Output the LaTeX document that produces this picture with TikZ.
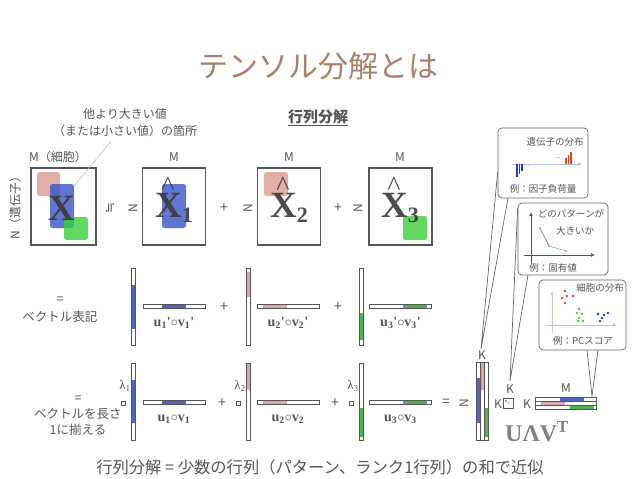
\documentclass[tikz,border=0pt]{standalone}
\usepackage{fontspec}
\setmainfont{Noto Sans CJK JP}
\newfontfamily\serifb{Liberation Serif}
\newfontfamily\symfont{DejaVu Sans}
\usetikzlibrary{arrows.meta,positioning}
\definecolor{TTitle}{HTML}{A8806E}
\definecolor{TInk}{HTML}{555555}
\definecolor{XInk}{HTML}{3A3A3A}
\definecolor{TBlue}{HTML}{3A52C8}
\definecolor{TRed}{HTML}{D99A94}
\definecolor{TGreen}{HTML}{3CCF3C}
\definecolor{TVBlue}{HTML}{5064C4}
\definecolor{TVRed}{HTML}{D9AAA8}
\definecolor{TVGreen}{HTML}{55B055}
\definecolor{CInk}{HTML}{666666}
\definecolor{AxBlue}{HTML}{B4C0EC}
\definecolor{AxPink}{HTML}{F2BDBD}
\definecolor{DBlue}{HTML}{1E3CC0}
\definecolor{DRed}{HTML}{E0461E}
\definecolor{DGreen}{HTML}{2ED82E}
\newcommand\fsz[1]{\fontsize{#1}{#1}\selectfont}
\newcommand\fszl[2]{\fontsize{#1}{#2}\selectfont}

\begin{document}
\begin{tikzpicture}[x=1pt,y=-1pt,
  lbl/.style={text=TInk,font=\fsz{12},inner sep=0pt,align=center},
  mat/.style={draw=TInk,line width=1.1pt,minimum width=63pt,minimum height=77pt,inner sep=0pt},
  bigx/.style={text=XInk,font=\serifb\bfseries\fsz{37},inner sep=0pt,opacity=.9},
  hatx/.style={text=XInk,font=\serifb\fsz{28},inner sep=0pt,opacity=.9},
  patch/.style={rounded corners=2.5pt,opacity=.8},
  vbar/.style={draw=TInk,line width=.8pt,minimum width=4pt,minimum height=77pt,inner sep=0pt},
  hbar/.style={draw=TInk,line width=.8pt,minimum width=62pt,minimum height=4pt,inner sep=0pt},
  vec/.style={text=TInk,font=\serifb\bfseries\fsz{14},inner sep=0pt},
  lam/.style={text=TInk,font=\serifb\fsz{13},inner sep=0pt},
  dotbox/.style={draw=TInk,line width=.7pt,minimum size=4pt,inner sep=0pt},
  op/.style={text=TInk,font=\fsz{14},inner sep=0pt},
  callout/.style={draw=CInk,line width=.7pt,rounded corners=4pt,fill=white,inner sep=0pt},
  ctext/.style={text=TInk,font=\fsz{9.5},inner sep=0pt,align=center},
  tail/.style={draw=CInk,line width=.7pt},
  ax/.style={-{Latex[length=4pt,width=4pt]},line width=.8pt}
]
\useasboundingbox (0,0) rectangle (638,479);

\node[text=TTitle,font=\fsz{30}] (title) at (318,66) {テンソル分解とは};
\node[lbl,font=\bfseries\fsz{15}] (head) at (318,118) {\underline{行列分解}};
\node[lbl,font=\fszl{12}{17}] (note) at (125,123) {他より大きい値\\（または小さい値）の箇所};

% matrices
\node[mat,minimum width=65pt] (m0) at (63.5,206.5) {};
\node[mat] (m1) at (174,206.5) {};
\node[mat] (m2) at (289,206.5) {};
\node[mat] (m3) at (400.5,206.5) {};

\fill[TRed,patch] (37,172) rectangle (60,196);
\fill[TBlue,patch] (50,184) rectangle (74,228);
\fill[TGreen,patch] (64,217) rectangle (88,240);
\fill[TBlue,patch] (162,184) rectangle (186,228);
\fill[TRed,patch] (264,172) rectangle (288,196);
\fill[TGreen,patch] (403,216) rectangle (427,240);

\node[bigx] (x0) at (62,208) {X};
\foreach \i/\px in {1/174,2/289,3/400}{
  \node[bigx] (x\i) at (\px,208) {X\raisebox{-5pt}{\fsz{22}\i}};
  \node[hatx] (h\i) at (\px-6,186) {\textasciicircum};
}
\draw[black!25,line width=.6pt] (note.south) ++(-14,4) coordinate (n0) -- (74,186);

\node[lbl] (cm0) at (58,157) {M（細胞）};
\foreach \px in {174,289,400}{\node[lbl] at (\px,157) {M};}
\node[lbl,rotate=90] (cn0) at (15,205) {N（遺伝子）};
\foreach \px in {133,248,358}{\node[lbl,rotate=90] at (\px,208) {N};}
\node[op,font=\symfont\fsz{13},rotate=90] (approx) at (110,208) {≒};
\node[op] (p1) at (224,208) {+};
\node[op] (p2) at (338,208) {+};

% rank-1 terms
\node[lbl,font=\fszl{12.5}{18}] (vnote) at (60,310) {=\\ベクトル表記};
\node[lbl,font=\fszl{12.5}{16}] (unote) at (78,416) {=\\ベクトルを長さ\\1に揃える};
\foreach \i/\cx/\mx/\col/\ay/\by/\cy/\dy/\ha/\hb in {
  1/133/174/TVBlue/285/329/380/423/162/186,
  2/248/288/TVRed/272/297/363/390/263/287,
  3/361/400.5/TVGreen/313/340/408/437/403/427}{
  \fill[\col] (\cx-2,\ay) rectangle (\cx+2,\by);
  \node[vbar] (va\i) at (\cx,306.5) {};
  \fill[\col] (\ha,304) rectangle (\hb,308);
  \node[hbar] (ha\i) at (\mx,306) {};
  \node[vec] (la\i) at (\mx,323) {u\textsubscript{\i}\textquotesingle$\circ$v\textsubscript{\i}\textquotesingle};
  \fill[\col] (\cx-2,\cy) rectangle (\cx+2,\dy);
  \node[vbar] (vb\i) at (\cx,401.5) {};
  \fill[\col] (\ha,400) rectangle (\hb,404);
  \node[hbar] (hb\i) at (\mx,402) {};
  \node[vec] (lb\i) at (\mx,419) {u\textsubscript{\i}$\circ$v\textsubscript{\i}};
  \node[lam] (lam\i) at (\cx-8,386) {λ\textsubscript{\i}};
  \node[dotbox] (s\i) at (\cx-10,403) {};
}
\foreach \px/\py in {224/307,338/307,222/403,335/403}{\node[op] at (\px,\py) {+};}

% U Lambda V^T
\node[op] (eq) at (446,403) {=};
\node[lbl,rotate=90] (nU) at (464,403) {N};
\foreach \j/\col/\ta/\tb in {0/TVBlue/378/423,1/TVRed/362/390,2/TVGreen/408/437}{
  \fill[\col] (476+4*\j,\ta) rectangle (480+4*\j,\tb);
  \draw[TInk,line width=.8pt] (476+4*\j,362) rectangle (480+4*\j,440);
}
\node[lbl] (kU) at (482,355) {K};
\node[lbl] (kL) at (498,404) {K};
\node[draw=TInk,line width=.8pt,minimum size=10pt,inner sep=0pt] (lmat) at (508,403) {};
\fill[TVBlue!60] (504.5,399.5) rectangle (506.5,401.5);
\fill[TVRed!70] (507,402) rectangle (509,404);
\node[lbl] (kT) at (510,389) {K};
\node[lbl] (kV) at (527,404) {K};
\node[lbl] (mV) at (566,388) {M};
\foreach \j/\col/\ta/\tb in {0/TVBlue/560/584,1/TVRed/541/565,2/TVGreen/570/594}{
  \fill[\col] (\ta,397+4*\j) rectangle (\tb,401+4*\j);
  \draw[TInk,line width=.8pt] (535,397+4*\j) rectangle (596,401+4*\j);
}
\node[text=black!50,font=\serifb\bfseries\fsz{24},inner sep=0pt] (uvt) at (537,432) {UΛV\textsuperscript{T}};

% callouts
\coordinate (tipA) at (481,349);
\coordinate (tipB) at (510,381);
\coordinate (tipC) at (592,396);
\node[callout,minimum width=90pt,minimum height=70pt] (cA) at (543,163) {};
\node[callout,minimum width=90pt,minimum height=72pt] (cB) at (563,239) {};
\node[callout,minimum width=87pt,minimum height=70pt] (cC) at (582.5,315) {};
\draw[tail] (cA.west |- 0,172) -- (tipA) -- (508,198);
\draw[tail] (cB.west |- 0,208) -- (tipB) -- (528,275);
\draw[tail] (587,350) -- (tipC) -- (598,350);

% gene loadings
\node[ctext] (tA) at (555,142) {遺伝子の分布};
\draw[ax,AxBlue] (512,164) -- (582,164);
\foreach \bx/\bh in {516/177,518.5/174,521/171}{\fill[DBlue] (\bx,164) rectangle (\bx+1.5,\bh);}
\node[ctext,text=DBlue!60,font=\fsz{7}] at (528,166) {...};
\foreach \bx/\bh in {565/158,567.5/155,570/152}{\fill[DRed] (\bx,164) rectangle (\bx+1.5,\bh);}
\node[ctext,text=black!70,font=\fsz{7}] at (558,158) {...};
\node[ctext] (bA) at (543,189) {例：因子負荷量};

% eigenvalues
\node[ctext] (tB) at (571,214) {どのパターンが};
\node[ctext] (tB2) at (575,231) {大きいか};
\draw[ax,TInk] (531,263) -- (531,212);
\draw[ax,TInk] (524,255) -- (595,255);
\draw[line width=.7pt,TRed!80!blue] (540,228) -- (549,246);
\draw[line width=.7pt,TVGreen!70] (549,246) -- (566,251);
\fill[blue!30] (540,228) circle (1.3);
\fill[TRed] (549,246) circle (1.3);
\fill[TVGreen!60] (566,251) circle (1.3);
\node[ctext] (bB) at (553,268) {例：固有値};

% cell scores
\node[ctext] (tC) at (600,288) {細胞の分布};
\draw[ax,AxPink] (552,333) -- (552,291);
\draw[ax,AxBlue] (546,325) -- (617,325);
\foreach \dx/\dy in {565/291,562/298,567/296,573/296,565/303}{\fill[DRed] (\dx,\dy) circle (1.3);}
\foreach \dx/\dy in {579/309,577/313,582/314,579/318,583/321,578/321}{\fill[DGreen] (\dx,\dy) circle (1.3);}
\foreach \dx/\dy in {598/314,604/315,608/313,602/318,600/321}{\fill[DBlue] (\dx,\dy) circle (1.3);}
\node[ctext] (bC) at (583,341) {例：PCスコア};

\node[lbl,font=\fsz{16.3}] (sum) at (320,467) {行列分解 = 少数の行列（パターン、ランク1行列）の和で近似};
\end{tikzpicture}
\end{document}
